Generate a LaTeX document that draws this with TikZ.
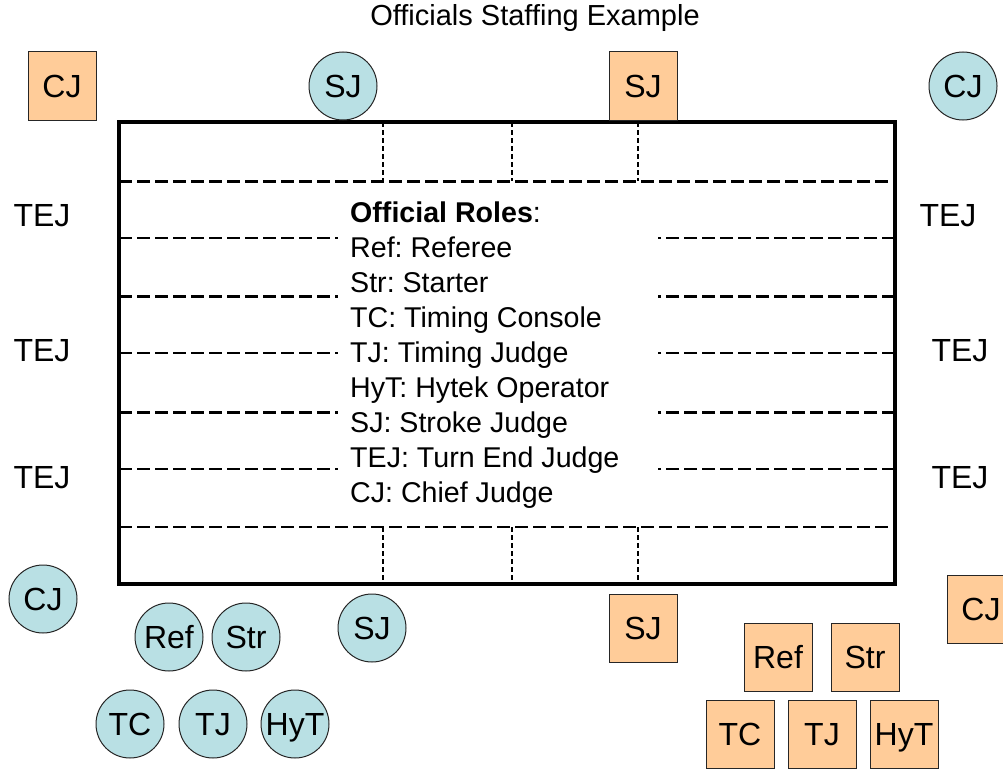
\documentclass[tikz,border=0pt]{standalone}
\usepackage{fontspec}
\setmainfont{Liberation Sans}
\definecolor{peach}{RGB}{255,204,153}
\definecolor{aqua}{RGB}{185,224,228}
\frenchspacing
\begin{document}
\begin{tikzpicture}[x=1pt,y=-1pt,
  sq/.style={draw=black!85, line width=1pt, fill=peach, minimum size=68pt, inner sep=0pt, text height=23pt, text depth=0pt, font=\fontsize{32}{32}\selectfont},
  rnd/.style={circle, draw=black!85, line width=1pt, fill=aqua, minimum size=68pt, inner sep=0pt, text height=23pt, text depth=0pt, font=\fontsize{32}{32}\selectfont},
  lbl/.style={inner sep=0pt, text height=23pt, text depth=0pt, font=\fontsize{32}{32}\selectfont},
  leg/.style={anchor=base west, inner sep=0pt, font=\fontsize{28.6}{28.6}\selectfont},
  lane/.style={dash pattern=on 13pt off 5pt},
  vdot/.style={line width=1.6pt, dash pattern=on 5pt off 3pt}]
\clip (0,0) rectangle (1003,768);
\fill[white] (0,0) rectangle (1003,768);

% title
\node[inner sep=0pt, font=\fontsize{29}{29}\selectfont] (title) at (535,18) {Officials Staffing Example};

% pool lane lines (full width)
\draw[lane, line width=3pt] (119,181) -- (895,181);
\draw[lane, line width=2.2pt] (119,527) -- (895,527);
% split lane lines
\foreach \yy/\ww in {238/2pt, 296/3pt, 353/2pt, 412/3pt, 469/1.2pt}{
  \draw[lane, line width=\ww] (119,\yy) -- (338,\yy);
  \draw[lane, line width=\ww] (895,\yy) -- (658,\yy);
}
% dotted verticals
\foreach \xx in {383,512,638}{
  \draw[vdot] (\xx,122) -- (\xx,181);
  \draw[vdot] (\xx,527) -- (\xx,584);
}
% pool outline
\draw[line width=4pt] (119,122) rectangle (895,584);

% legend
\node[leg] (l1) at (350,222) {\textbf{Official Roles}:};
\node[leg] (l2) at (350,257) {Ref: Referee};
\node[leg] (l3) at (350,292) {Str: Starter};
\node[leg] (l4) at (350,327) {TC: Timing Console};
\node[leg] (l5) at (350,362) {TJ: Timing Judge};
\node[leg] (l6) at (350,397) {HyT: Hytek Operator};
\node[leg] (l7) at (350,432) {SJ: Stroke Judge};
\node[leg] (l8) at (350,467) {TEJ: Turn End Judge};
\node[leg] (l9) at (350,502) {CJ: Chief Judge};

% turn end judges
\node[lbl] (tejl1) at (42,215) {TEJ};
\node[lbl] (tejl2) at (42,350) {TEJ};
\node[lbl] (tejl3) at (42,477) {TEJ};
\node[lbl] (tejr1) at (948,215) {TEJ};
\node[lbl] (tejr2) at (960,350) {TEJ};
\node[lbl] (tejr3) at (960,477) {TEJ};

% top officials
\node[sq] (cjtl) at (62,86) {CJ};
\node[rnd] (sjtc) at (343,86) {SJ};
\node[sq] (sjts) at (643,86) {SJ};
\node[rnd] (cjtr) at (963,86) {CJ};

% bottom circles
\node[rnd] (cjbl) at (43,599) {CJ};
\node[rnd] (refc) at (169,637) {Ref};
\node[rnd] (strc) at (246,637) {Str};
\node[rnd] (sjbc) at (372,628) {SJ};
\node[rnd] (tcc) at (130,724) {TC};
\node[rnd] (tjc) at (213,724) {TJ};
\node[rnd] (hytc) at (295,724) {HyT};

% bottom squares
\node[sq] (sjbs) at (643,628) {SJ};
\node[sq] (cjbr) at (981,609) {CJ};
\node[sq] (refs) at (778,657) {Ref};
\node[sq] (strs) at (865,657) {Str};
\node[sq] (tcs) at (740,734) {TC};
\node[sq] (tjs) at (822,734) {TJ};
\node[sq] (hyts) at (904,734) {HyT};
\end{tikzpicture}
\end{document}
